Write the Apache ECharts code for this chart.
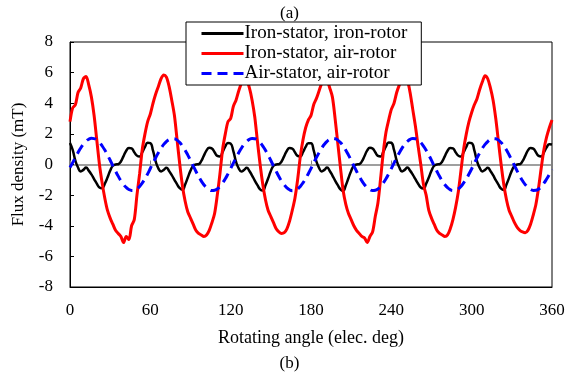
<!DOCTYPE html>
<html>
<head>
<meta charset="utf-8">
<script src="https://cdn.jsdelivr.net/npm/echarts@6/dist/echarts.min.js"></script>
<style>
  html, body { margin: 0; padding: 0; background: #fff; }
  #chart-box { width: 579px; height: 376px; }
</style>
</head>
<body>
<div id="chart-box"></div>
<script>
const angles = [
    0, 2, 4, 6, 8, 10, 12, 14, 16, 18, 20, 22, 24, 26, 28, 30, 32, 34, 36, 38, 40, 42, 44, 46, 48, 50, 52, 54, 56, 58,
    60, 62, 64, 66, 68, 70, 72, 74, 76, 78, 80, 82, 84, 86, 88, 90, 92, 94, 96, 98, 100, 102, 104, 106, 108, 110, 112, 114, 116, 118,
    120, 122, 124, 126, 128, 130, 132, 134, 136, 138, 140, 142, 144, 146, 148, 150, 152, 154, 156, 158, 160, 162, 164, 166, 168, 170, 172, 174, 176, 178,
    180, 182, 184, 186, 188, 190, 192, 194, 196, 198, 200, 202, 204, 206, 208, 210, 212, 214, 216, 218, 220, 222, 224, 226, 228, 230, 232, 234, 236, 238,
    240, 242, 244, 246, 248, 250, 252, 254, 256, 258, 260, 262, 264, 266, 268, 270, 272, 274, 276, 278, 280, 282, 284, 286, 288, 290, 292, 294, 296, 298,
    300, 302, 304, 306, 308, 310, 312, 314, 316, 318, 320, 322, 324, 326, 328, 330, 332, 334, 336, 338, 340, 342, 344, 346, 348, 350, 352, 354, 356, 358,
    360
];

// Iron-stator, iron-rotor
const ironIron = [
    1.40, 0.95, 0.25, -0.20, -0.45, -0.35, -0.20, -0.40, -0.65, -0.95, -1.25, -1.50, -1.55, -1.25, -0.85, -0.40, -0.08, 0.00, 0.02, 0.20, 0.55, 0.90, 1.08, 1.05, 0.80, 0.58, 0.52, 0.80, 1.15, 1.42,
    1.40, 0.90, 0.20, -0.25, -0.45, -0.35, -0.22, -0.42, -0.70, -1.00, -1.30, -1.55, -1.65, -1.30, -0.85, -0.40, -0.08, 0.00, 0.02, 0.22, 0.58, 0.92, 1.10, 1.05, 0.80, 0.56, 0.52, 0.82, 1.18, 1.40,
    1.36, 0.88, 0.18, -0.25, -0.46, -0.36, -0.22, -0.42, -0.72, -1.05, -1.35, -1.62, -1.70, -1.35, -0.90, -0.42, -0.08, 0.00, 0.02, 0.20, 0.55, 0.90, 1.07, 1.04, 0.80, 0.56, 0.52, 0.80, 1.15, 1.38,
    1.38, 0.92, 0.20, -0.22, -0.45, -0.35, -0.20, -0.42, -0.72, -1.05, -1.35, -1.62, -1.72, -1.35, -0.88, -0.42, -0.08, 0.00, 0.02, 0.20, 0.56, 0.92, 1.10, 1.05, 0.80, 0.56, 0.52, 0.82, 1.18, 1.44,
    1.42, 0.95, 0.25, -0.20, -0.45, -0.35, -0.20, -0.40, -0.66, -0.96, -1.26, -1.50, -1.56, -1.25, -0.85, -0.40, -0.08, 0.00, 0.02, 0.20, 0.55, 0.90, 1.08, 1.05, 0.80, 0.58, 0.52, 0.80, 1.15, 1.42,
    1.40, 0.92, 0.22, -0.22, -0.45, -0.35, -0.22, -0.42, -0.70, -1.02, -1.32, -1.58, -1.66, -1.30, -0.86, -0.40, -0.08, 0.00, 0.02, 0.22, 0.56, 0.92, 1.08, 1.04, 0.80, 0.56, 0.52, 0.80, 1.12, 1.32,
    1.30
];

// Iron-stator, air-rotor
const ironAir = [
    2.8, 3.7, 3.9, 4.7, 5.0, 5.6, 5.75, 5.2, 4.4, 3.2, 1.6, 0.0, -1.2, -2.2, -3.0, -3.5, -3.9, -4.3, -4.5, -4.7, -5.1, -4.7, -4.9, -4.0, -3.6, -2.0, -0.6, 1.0, 2.0, 2.8,
    3.3, 4.0, 4.6, 5.1, 5.6, 5.85, 5.7, 5.1, 4.2, 3.2, 1.6, 0.0, -1.4, -2.4, -3.1, -3.5, -3.9, -4.3, -4.5, -4.6, -4.7, -4.6, -4.3, -3.8, -3.2, -2.0, -0.6, 1.0, 2.0, 2.8,
    3.0, 3.8, 4.2, 4.8, 5.3, 5.6, 5.5, 5.0, 4.2, 3.1, 1.5, 0.0, -1.3, -2.3, -3.0, -3.4, -3.8, -4.2, -4.4, -4.5, -4.45, -4.2, -3.7, -3.0, -2.2, -1.0, 0.5, 1.6, 2.4, 2.9,
    3.2, 3.9, 4.3, 4.8, 5.3, 5.6, 5.5, 5.0, 4.4, 3.0, 1.4, -0.2, -1.7, -2.6, -3.2, -3.6, -4.0, -4.3, -4.5, -4.7, -4.8, -5.1, -4.7, -4.4, -3.4, -2.5, -0.9, 0.8, 2.1, 2.9,
    3.6, 4.0, 4.7, 5.2, 5.6, 5.75, 5.5, 4.7, 3.6, 2.5, 1.2, 0.0, -1.3, -2.0, -3.0, -3.5, -3.9, -4.3, -4.5, -4.6, -4.7, -4.6, -4.2, -3.6, -2.8, -1.8, -0.4, 1.0, 2.0, 2.8,
    3.4, 3.9, 4.3, 4.9, 5.4, 5.8, 5.6, 5.0, 4.2, 3.0, 1.5, 0.0, -1.3, -2.3, -3.0, -3.4, -3.8, -4.1, -4.3, -4.4, -4.45, -4.3, -3.9, -3.3, -2.6, -1.5, -0.2, 1.0, 1.8, 2.4,
    2.9
];

// Air-stator, air-rotor
const airAir = [
    -0.20, 0.12, 0.46, 0.78, 1.08, 1.33, 1.52, 1.65, 1.71, 1.69, 1.60, 1.44, 1.21, 0.94, 0.62, 0.28, -0.08, -0.43, -0.76, -1.06, -1.31, -1.50, -1.63, -1.69, -1.68, -1.59, -1.43, -1.20, -0.93, -0.61,
    -0.26, 0.10, 0.44, 0.77, 1.06, 1.31, 1.50, 1.63, 1.69, 1.68, 1.59, 1.43, 1.20, 0.93, 0.61, 0.27, -0.09, -0.44, -0.77, -1.07, -1.32, -1.51, -1.64, -1.70, -1.68, -1.59, -1.43, -1.20, -0.93, -0.61,
    -0.27, 0.09, 0.44, 0.76, 1.06, 1.31, 1.50, 1.64, 1.70, 1.68, 1.59, 1.43, 1.20, 0.93, 0.61, 0.26, -0.10, -0.45, -0.78, -1.08, -1.33, -1.52, -1.65, -1.71, -1.69, -1.60, -1.43, -1.20, -0.92, -0.60,
    -0.26, 0.10, 0.45, 0.77, 1.07, 1.32, 1.51, 1.64, 1.70, 1.68, 1.59, 1.43, 1.20, 0.93, 0.61, 0.27, -0.09, -0.44, -0.77, -1.07, -1.32, -1.51, -1.64, -1.70, -1.68, -1.59, -1.43, -1.20, -0.93, -0.61,
    -0.27, 0.09, 0.44, 0.77, 1.07, 1.32, 1.51, 1.64, 1.70, 1.68, 1.59, 1.43, 1.20, 0.93, 0.61, 0.27, -0.09, -0.44, -0.77, -1.07, -1.32, -1.51, -1.64, -1.70, -1.68, -1.59, -1.43, -1.20, -0.94, -0.62,
    -0.28, 0.08, 0.43, 0.76, 1.06, 1.31, 1.50, 1.63, 1.69, 1.68, 1.59, 1.43, 1.21, 0.94, 0.62, 0.28, -0.08, -0.43, -0.76, -1.06, -1.31, -1.50, -1.63, -1.69, -1.68, -1.60, -1.45, -1.22, -0.95, -0.65,
    -0.32
];

const seriesNames = ['Iron-stator, iron-rotor', 'Iron-stator, air-rotor', 'Air-stator, air-rotor'];
const xTicks = { min: 0, max: 360, step: 60 };
const yTicks = { min: -8, max: 8, step: 2 };

const font = 'Liberation Serif';

const pairs = (vals) => angles.map((a, i) => [a, vals[i]]);

const option = {
    animation: false,
    textStyle: { fontFamily: font, color: '#000' },
    title: [
        {
            text: '(a)',
            left: 'center',
            top: 0,
            textStyle: { fontFamily: font, fontSize: 17, fontWeight: 'normal', color: '#000' }
        },
        {
            text: '(b)',
            left: 'center',
            top: 350,
            textStyle: { fontFamily: font, fontSize: 17, fontWeight: 'normal', color: '#000' }
        }
    ],
    legend: {
        orient: 'vertical',
        left: 186,
        top: 22,
        itemWidth: 42,
        itemHeight: 14,
        itemGap: 1,
        padding: [2, 14, 2, 14],
        backgroundColor: '#fff',
        borderColor: '#000',
        borderWidth: 1,
        itemStyle: { opacity: 0 },
        lineStyle: { width: 3 },
        textStyle: { fontFamily: font, fontSize: 19, color: '#000', padding: [0, 0, 0, -4] },
        data: seriesNames
    },
    grid: {
        left: 70,
        right: 27,
        top: 42,
        bottom: 89,
        show: true,
        borderColor: '#000',
        borderWidth: 1
    },
    xAxis: [
        {
            type: 'value',
            min: xTicks.min,
            max: xTicks.max,
            interval: xTicks.step,
            position: 'bottom',
            name: 'Rotating angle (elec. deg)',
            nameLocation: 'middle',
            nameGap: 42,
            nameTextStyle: { fontFamily: font, fontSize: 18, color: '#000' },
            axisLine: { onZero: false, lineStyle: { color: '#000', width: 1 } },
            axisTick: { show: false },
            axisLabel: { fontFamily: font, fontSize: 17, color: '#000', margin: 15 },
            splitLine: { show: false }
        },
        {
            type: 'value',
            min: xTicks.min,
            max: xTicks.max,
            interval: xTicks.step,
            position: 'bottom',
            axisLine: { onZero: true, lineStyle: { color: '#808080', width: 1.5 } },
            axisTick: { show: true, inside: true, length: 4, lineStyle: { color: '#808080' } },
            axisLabel: { show: false },
            splitLine: { show: false }
        }
    ],
    yAxis: {
        type: 'value',
        min: yTicks.min,
        max: yTicks.max,
        interval: yTicks.step,
        name: 'Flux density (mT)',
        nameLocation: 'middle',
        nameGap: 43,
        nameTextStyle: { fontFamily: font, fontSize: 17, color: '#000' },
        axisLine: { show: true, lineStyle: { color: '#000', width: 1 } },
        axisTick: { show: true, inside: true, length: 4, lineStyle: { color: '#000' } },
        axisLabel: { fontFamily: font, fontSize: 17, color: '#000', margin: 17 },
        splitLine: { show: false }
    },
    series: [
        {
            name: seriesNames[0],
            type: 'line',
            data: pairs(ironIron),
            smooth: true,
            symbol: 'none',
            color: '#000',
            lineStyle: { color: '#000', width: 2.5 }
        },
        {
            name: seriesNames[1],
            type: 'line',
            data: pairs(ironAir),
            smooth: 0.3,
            symbol: 'none',
            color: '#ff0000',
            lineStyle: { color: '#ff0000', width: 3 }
        },
        {
            name: seriesNames[2],
            type: 'line',
            data: pairs(airAir),
            smooth: true,
            symbol: 'none',
            color: '#0000ff',
            lineStyle: { color: '#0000ff', width: 3, type: [10, 6] }
        }
    ]
};

const chart = echarts.init(document.getElementById('chart-box'));
chart.setOption(option);
</script>
</body>
</html>
